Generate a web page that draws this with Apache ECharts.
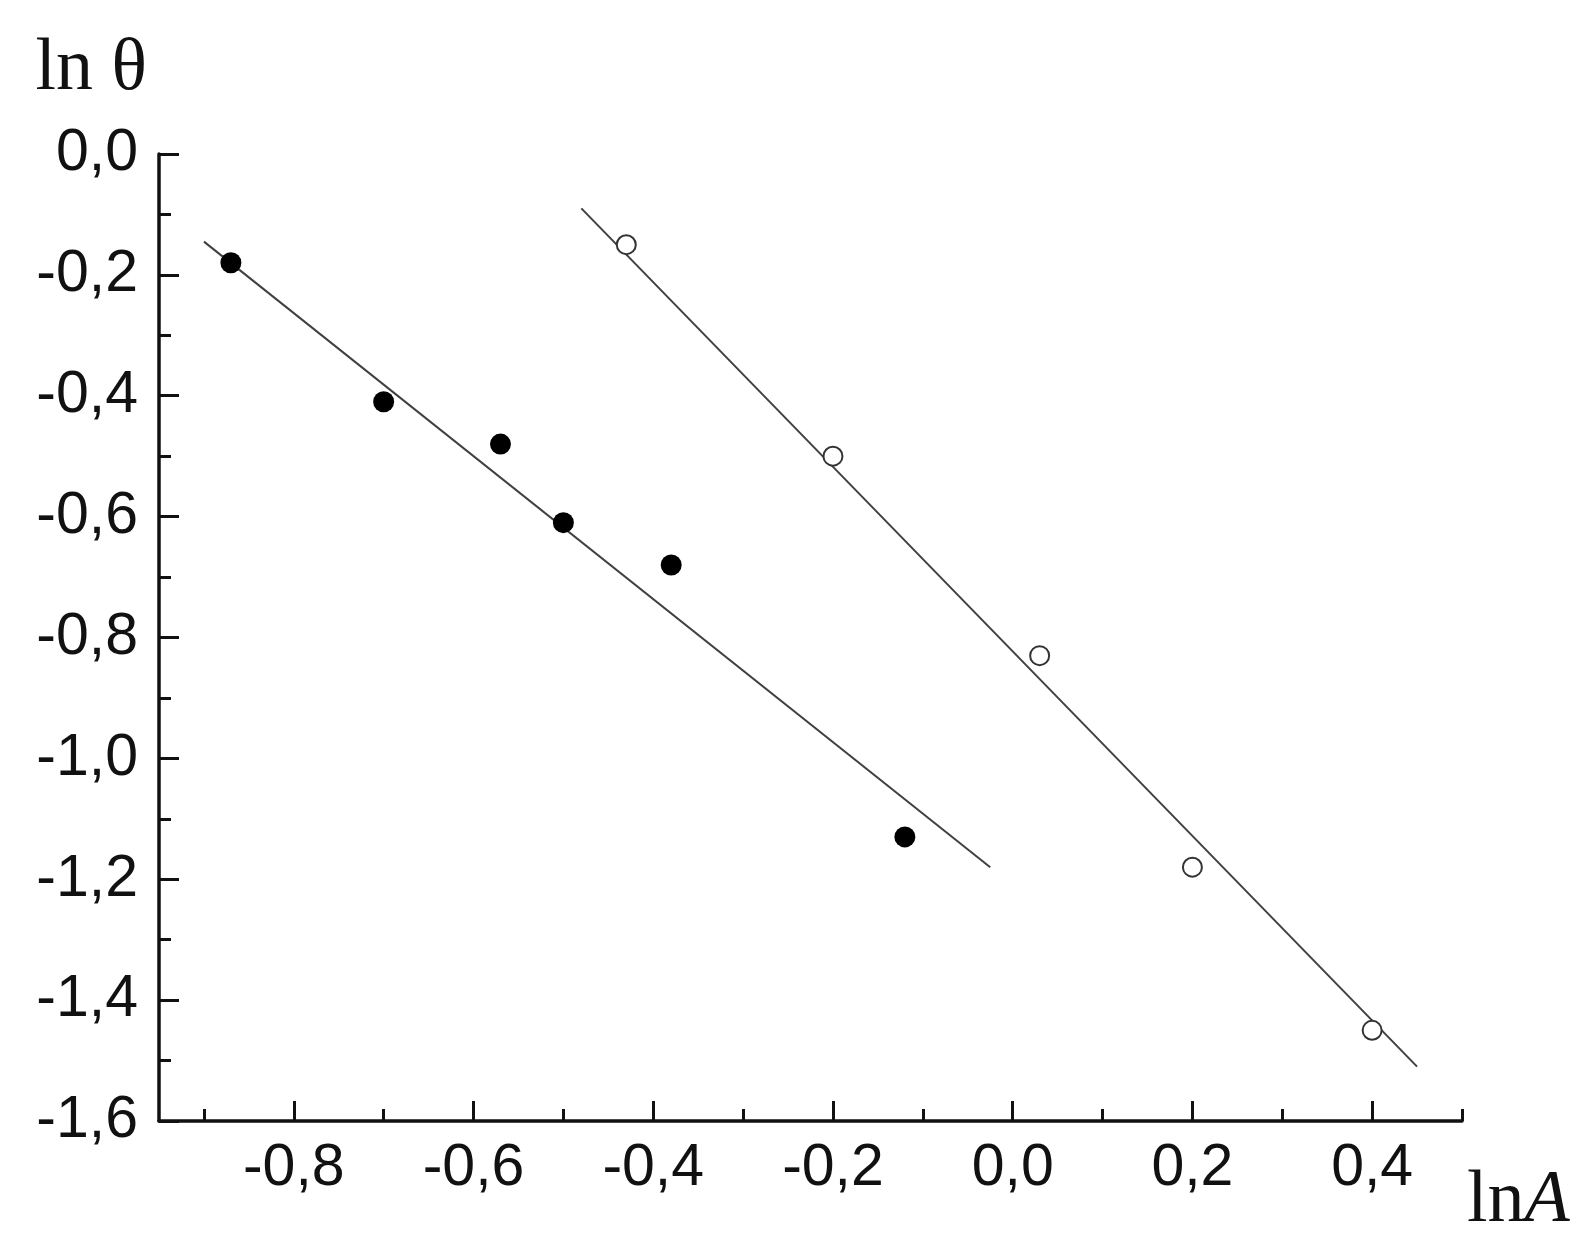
<!DOCTYPE html>
<html>
<head>
<meta charset="utf-8">
<script src="https://cdn.jsdelivr.net/npm/echarts@6/dist/echarts.min.js"></script>
<style>
  html, body { margin: 0; padding: 0; background: #fff; }
  #chart { width: 1590px; height: 1252px; }
</style>
</head>
<body>
<div id="chart"></div>
<script>
// filled points
var filledX = [-0.87, -0.70, -0.57, -0.50, -0.38, -0.12];
var filledY = [-0.18, -0.41, -0.48, -0.61, -0.68, -1.13];
// open points
var openX = [-0.43, -0.20, 0.03, 0.20, 0.40];
var openY = [-0.15, -0.50, -0.83, -1.18, -1.45];
// fitted lines, end points
var fit1X = [-0.90, -0.025];
var fit1Y = [-0.145, -1.18];
var fit2X = [-0.48, 0.45];
var fit2Y = [-0.09, -1.51];
// ticks
var xMajor = [-0.8, -0.6, -0.4, -0.2, 0.0, 0.2, 0.4];
var xMinor = [-0.9, -0.7, -0.5, -0.3, -0.1, 0.1, 0.3, 0.5];

function pairs(xs, ys) {
  return xs.map(function (x, i) { return [x, ys[i]]; });
}
function comma(v) {
  return (Math.round(v * 10) / 10).toFixed(1).replace('.', ',');
}

var chart = echarts.init(document.getElementById('chart'));
var axisColor = '#111';
chart.setOption({
  backgroundColor: '#fff',
  animation: false,
  grid: { left: 159, top: 154, right: 128, bottom: 131, containLabel: false, outerBoundsMode: 'none' },
  xAxis: [
    {
      type: 'value', min: -0.95, max: 0.5, position: 'bottom',
      name: '{a|ln}{b|A}', nameLocation: 'end', nameGap: 5,
      nameTextStyle: {
        verticalAlign: 'top', align: 'left', padding: [44, 0, 0, 0],
        rich: {
          a: { fontFamily: 'Liberation Serif', fontSize: 74, color: axisColor },
          b: { fontFamily: 'Liberation Serif', fontSize: 74, fontStyle: 'italic', color: axisColor }
        }
      },
      axisLine: { onZero: false, lineStyle: { color: axisColor, width: 3.5 } },
      axisTick: { inside: true, length: 20, customValues: xMajor, lineStyle: { color: axisColor, width: 3 } },
      axisLabel: { customValues: xMajor, formatter: comma, margin: 18, fontFamily: 'Liberation Sans', fontSize: 59, color: axisColor },
      splitLine: { show: false }
    },
    {
      type: 'value', min: -0.95, max: 0.5, position: 'bottom',
      axisLine: { show: false, onZero: false },
      axisTick: { inside: true, length: 12, customValues: xMinor, lineStyle: { color: axisColor, width: 3 } },
      axisLabel: { show: false },
      splitLine: { show: false }
    }
  ],
  yAxis: {
    type: 'value', min: -1.6, max: 0, interval: 0.2,
    name: 'ln θ', nameLocation: 'end', nameGap: 47,
    nameTextStyle: { fontFamily: 'Liberation Serif', fontSize: 74, color: axisColor, align: 'right', padding: [0, 12, 0, 0] },
    axisLine: { onZero: false, lineStyle: { color: axisColor, width: 3.5 } },
    axisTick: { inside: true, length: 20, lineStyle: { color: axisColor, width: 3 } },
    minorTick: { show: true, splitNumber: 2, length: 12, lineStyle: { color: axisColor, width: 3 } },
    axisLabel: { formatter: comma, margin: 21, fontFamily: 'Liberation Sans', fontSize: 59, color: axisColor },
    splitLine: { show: false }
  },
  series: [
    {
      type: 'line', data: pairs(fit1X, fit1Y), symbol: 'none', z: 1,
      lineStyle: { color: '#404040', width: 2 }
    },
    {
      type: 'line', data: pairs(fit2X, fit2Y), symbol: 'none', z: 1,
      lineStyle: { color: '#404040', width: 2 }
    },
    {
      type: 'scatter', data: pairs(filledX, filledY), symbolSize: 21, z: 3,
      itemStyle: { color: '#000', opacity: 1 }
    },
    {
      type: 'scatter', data: pairs(openX, openY), symbolSize: 19, z: 3,
      itemStyle: { color: '#fff', borderColor: '#333', borderWidth: 2, opacity: 1 }
    }
  ]
});
</script>
</body>
</html>
